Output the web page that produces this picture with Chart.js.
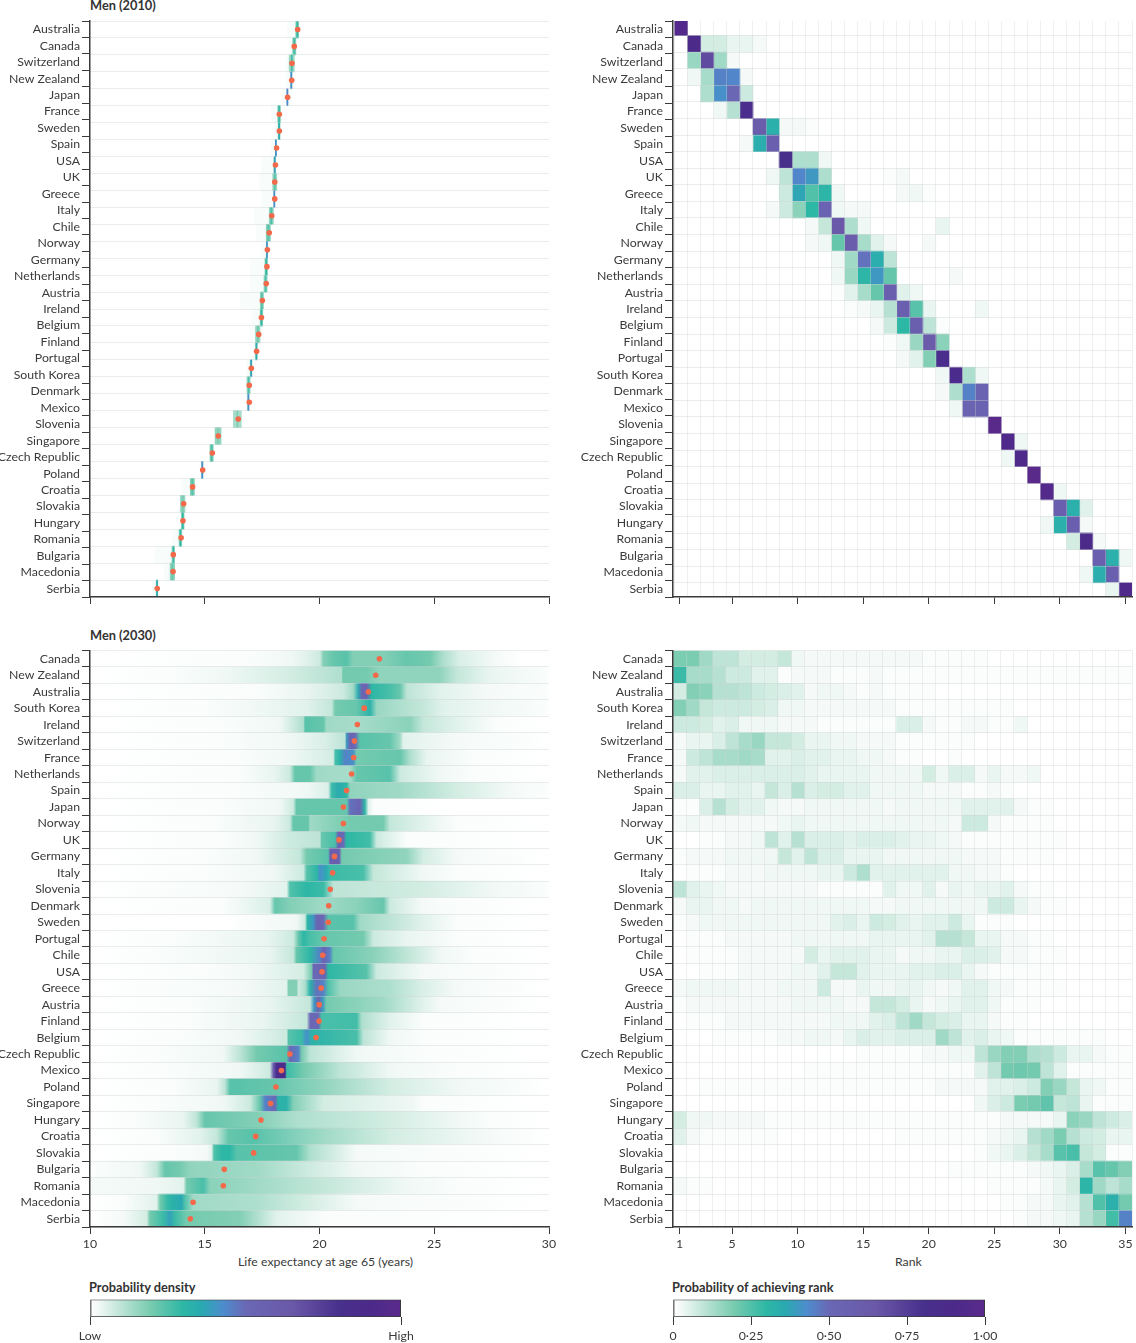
<!DOCTYPE html>
<html>
<head>
<meta charset="utf-8">
<title>Life expectancy at age 65, men</title>
<script src="https://cdn.jsdelivr.net/npm/chart.js@4"></script>
<style>
  body { margin: 0; background: #fff; }
  #page { position: relative; width: 1136px; height: 1343px; overflow: hidden; font-family: Lato, sans-serif; color: #3a3a3a; }
  #page canvas { position: absolute; }
  .lbl { position: absolute; font-size: 12.3px; line-height: 16px; white-space: nowrap; }
  .head { font-weight: bold; font-size: 12.8px; color: #333; }
</style>
</head>
<body>
<div id="page">
  <div class="lbl head" style="left:90px;top:-3px">Men (2010)</div>
  <div class="lbl head" style="left:90px;top:627px">Men (2030)</div>
  <div class="lbl" style="left:238px;top:1254px">Life expectancy at age 65 (years)</div>
  <div class="lbl" style="left:895px;top:1254px">Rank</div>
  <div class="lbl head" style="left:89px;top:1279px">Probability density</div>
  <div class="lbl head" style="left:672px;top:1279px">Probability of achieving rank</div>
  <canvas id="c2010"></canvas>
  <canvas id="r2010"></canvas>
  <canvas id="c2030"></canvas>
  <canvas id="r2030"></canvas>
  <canvas id="legA"></canvas>
  <canvas id="legB"></canvas>
</div>
<script>
const countries2010 = ["Australia","Canada","Switzerland","New Zealand","Japan","France","Sweden","Spain","USA","UK","Greece","Italy","Chile","Norway","Germany","Netherlands","Austria","Ireland","Belgium","Finland","Portugal","South Korea","Denmark","Mexico","Slovenia","Singapore","Czech Republic","Poland","Croatia","Slovakia","Hungary","Romania","Bulgaria","Macedonia","Serbia"];
const countries2030 = ["Canada","New Zealand","Australia","South Korea","Ireland","Switzerland","France","Netherlands","Spain","Japan","Norway","UK","Germany","Italy","Slovenia","Denmark","Sweden","Portugal","Chile","USA","Greece","Austria","Finland","Belgium","Czech Republic","Mexico","Poland","Singapore","Hungary","Croatia","Slovakia","Bulgaria","Romania","Macedonia","Serbia"];

// the 2010 density panel only has 34 strips and points in the picture
const mean2010 = [19.05,18.90,18.80,18.79,18.61,18.25,18.25,18.13,18.08,18.05,18.05,17.92,17.81,17.73,17.71,17.68,17.51,17.47,17.35,17.26,17.03,16.94,16.94,16.46,15.59,15.33,14.91,14.47,14.08,14.05,13.97,13.63,13.62,12.93];
const stripMid2010 = [19.03,18.90,18.79,18.77,18.60,18.24,18.24,18.10,18.05,18.05,18.03,17.90,17.77,17.71,17.68,17.65,17.49,17.47,17.31,17.25,17.02,16.91,16.90,16.42,15.58,15.30,14.89,14.46,14.04,14.04,13.94,13.63,13.59,12.92];
const stripHalf2010 = [.065,.07,.115,.045,.03,.06,.045,.03,.045,.09,.03,.09,.09,.03,.06,.07,.07,.06,.10,.045,.045,.07,.03,.175,.13,.07,.045,.09,.10,.06,.06,.06,.10,.045];
const stripDensity2010 = [18,18,14,8,5,18,14,5,10,15,5,16,18,5,15,15,16,15,15,10,10,15,10,13,16,18,8,18,15,15,15,15,16,8];
const coreDensity2010 = [28,26,28,42,44,28,34,42,38,24,42,26,24,40,30,26,24,30,22,35,38,26,42,18,18,26,42,24,20,30,30,28,22,35];
const coreHalf2010 = 0.025;
const tailFrom2010 = [18.60,18.69,18.54,18.54,18.38,17.90,18.06,17.89,17.48,17.38,17.49,17.16,17.26,17.45,16.97,16.97,16.57,17.04,16.97,17.12,16.83,16.80,16.80,16.25,15.45,15.20,14.87,14.00,13.92,13.94,13.60,12.83,13.22,12.70];
const tailTo2010 = [18.97,18.86,18.69,18.74,18.79,18.16,18.21,18.08,18.02,17.96,17.99,17.81,17.70,17.67,17.63,17.58,17.41,17.41,17.20,17.20,16.97,16.86,16.86,16.30,15.52,15.26,14.91,14.36,13.95,13.97,13.86,13.56,13.48,12.84];
const tailDensity2010 = 1.5;

// probability of achieving rank, in %, each row starts at rankFirst2010
const rankFirst2010 = [1,2,2,2,3,4,7,6,9,8,9,8,11,11,13,13,13,14,16,17,18,21,21,22,25,26,26,28,29,30,29,31,33,32,34];
const rankProb2010 = [
  [95],[90,7,7,4,4,2],[15,70,14,2],[3,13,45,44,2],[12,42,50,8],[3,11,85],[60,33,2,2,1],[2,34,58],[82,12,12,3],
  [3,10,44,40,12,0,0,0,0,1,2],[8,37,25,31,3,0,0,0,0,2,3,1],[2,8,17,30,55,3,2,2],[2,9,65,12,3,0,0,0,0,0,4],
  [2,3,22,60,13,5,2,0,0,2],[3,14,48,34,10],[3,15,31,40,22,0,0,0,0,2],[1,5,13,22,58,5,3],[1,2,4,11,58,24,4,0,0,0,3],
  [2,8,30,58,10,1],[1,3,15,62,17],[2,5,18,85],[3,88,12,3],[2,12,45,55],[3,55,55],[100],[93,3],[3,93],[100],[95,3],
  [58,33,5],[3,33,58,2],[7,90,2],[58,33,3],[3,34,58],[4,93]
];

const mean2030 = [22.61,22.45,22.13,21.95,21.65,21.52,21.49,21.40,21.18,21.04,21.04,20.85,20.65,20.57,20.47,20.40,20.38,20.20,20.14,20.11,20.07,19.99,19.98,19.85,18.71,18.34,18.10,17.87,17.45,17.22,17.13,15.85,15.81,14.49,14.37];

// density profile per country: pairs of [years, density %]
const density2030 = [
  [[16.97,1],[18.71,3],[19.44,5],[20.02,8],[20.17,18],[20.60,22],[21.18,24],[21.47,18],[22.78,18],[23.80,22],[24.81,20],[25.40,12],[26.12,6],[27.72,2],[28.88,0]],
  [[13.63,1],[15.81,3],[18.71,7],[20.17,10],[20.97,12],[21.01,20],[22.05,20],[22.64,16],[25.25,16],[25.98,9],[27.43,4],[29.90,1]],
  [[17.26,1],[19.44,4],[21.04,8],[21.47,14],[21.69,35],[21.84,52],[22.05,55],[22.27,30],[23.07,26],[23.51,22],[23.80,10],[25.25,5],[27.43,2],[29.90,1]],
  [[15.08,1],[17.26,3],[19.44,5],[20.53,9],[20.68,20],[21.62,22],[22.20,32],[22.49,15],[24.52,9],[25.40,5],[27.43,3],[29.90,1]],
  [[15.81,1],[18.28,3],[18.86,8],[19.30,12],[19.37,24],[20.17,22],[20.31,14],[21.62,13],[23.94,17],[24.52,9],[25.98,5],[27.72,1]],
  [[15.81,1],[18.71,3],[20.17,6],[21.11,10],[21.18,40],[21.33,55],[21.55,50],[21.76,24],[23.07,22],[23.51,14],[23.65,5],[25.98,2],[28.88,1]],
  [[16.54,1],[18.71,3],[20.60,7],[20.68,26],[20.89,32],[21.11,45],[21.47,42],[21.62,20],[23.51,22],[23.94,12],[24.67,4],[26.70,1]],
  [[16.54,1],[17.99,4],[18.71,8],[18.93,22],[19.59,22],[19.88,14],[21.33,13],[21.62,22],[23.07,24],[23.51,8],[25.25,3],[26.70,1]],
  [[16.54,1],[19.44,3],[20.38,6],[20.53,28],[20.82,35],[21.18,30],[21.33,16],[23.51,14],[25.98,7],[28.45,2],[29.90,1]],
  [[15.81,1],[18.28,3],[18.86,8],[19.00,22],[21.18,22],[21.33,48],[21.76,55],[21.98,30],[22.13,5],[22.35,1],[25.98,0]],
  [[15.37,1],[17.99,4],[18.71,8],[18.86,22],[19.51,22],[19.59,14],[21.33,20],[22.78,20],[23.07,9],[25.25,3],[25.98,1]],
  [[15.81,1],[17.26,3],[18.71,8],[20.02,10],[20.09,22],[20.68,26],[20.82,55],[21.04,50],[21.18,30],[22.20,27],[22.49,8],[23.80,1]],
  [[15.08,1],[17.26,3],[19.15,9],[19.44,20],[20.38,24],[20.46,58],[20.86,58],[20.97,20],[23.80,16],[24.52,7],[25.98,2]],
  [[15.08,1],[17.99,3],[19.30,8],[19.44,24],[19.88,30],[20.02,42],[20.31,35],[20.46,28],[21.91,26],[22.35,9],[24.52,3],[25.98,1]],
  [[13.20,1],[16.54,2],[18.57,5],[18.71,25],[19.44,30],[20.17,28],[20.60,10],[24.52,7],[27.43,3],[29.90,1]],
  [[15.81,1],[17.84,6],[18.06,22],[18.71,18],[20.17,14],[21.62,17],[22.78,22],[23.07,8],[24.52,2],[25.98,1]],
  [[15.81,0],[19.00,3],[19.37,8],[19.47,30],[19.73,40],[19.88,55],[20.17,50],[20.38,24],[21.47,24],[21.76,14],[23.07,10],[24.52,5],[25.98,1]],
  [[13.63,1],[17.70,4],[18.86,8],[19.08,22],[19.30,30],[19.59,26],[20.17,22],[21.91,20],[22.35,8],[23.80,4],[25.98,1]],
  [[12.90,1],[17.84,4],[18.86,9],[19.00,22],[19.59,30],[20.02,45],[20.17,56],[20.46,45],[20.60,22],[22.35,17],[23.94,9],[25.25,3],[26.70,1]],
  [[15.08,1],[17.26,3],[19.30,7],[19.66,20],[19.73,50],[20.24,55],[20.38,30],[22.05,24],[22.49,8],[24.52,2]],
  [[12.90,1],[16.54,2],[18.57,5],[18.64,18],[19.00,18],[19.08,8],[19.37,12],[19.59,32],[19.88,48],[20.17,45],[20.38,25],[20.89,15],[23.07,12],[24.52,6],[25.98,2]],
  [[14.36,1],[17.84,4],[19.59,9],[19.76,40],[19.95,55],[20.14,40],[20.31,20],[22.78,14],[24.52,5],[25.25,2]],
  [[14.36,1],[17.55,4],[19.44,9],[19.59,50],[19.95,50],[20.09,26],[21.62,27],[21.84,12],[23.07,5],[24.52,1]],
  [[13.92,1],[16.54,3],[18.57,8],[18.64,24],[19.22,28],[19.44,42],[19.66,32],[21.62,26],[21.91,10],[23.07,3],[24.52,1]],
  [[12.90,1],[15.81,3],[16.54,10],[17.26,20],[18.57,24],[18.71,50],[19.08,45],[19.22,20],[19.59,10],[21.62,3],[24.52,1]],
  [[13.34,1],[16.54,3],[17.84,8],[17.99,60],[18.13,85],[18.50,90],[18.57,28],[19.30,20],[20.89,10],[23.07,3],[25.98,1]],
  [[13.63,1],[15.52,4],[15.88,10],[16.10,24],[18.13,22],[20.17,16],[21.04,13],[23.07,7],[25.98,3],[28.88,1]],
  [[12.90,1],[15.81,3],[16.97,8],[17.41,22],[17.63,45],[18.06,50],[18.21,32],[18.57,32],[18.86,18],[20.17,7],[24.09,3],[24.52,1]],
  [[11.89,1],[14.07,4],[14.65,10],[15.01,22],[17.26,18],[19.00,12],[23.07,7],[25.98,3],[27.43,1]],
  [[12.90,1],[14.79,5],[15.52,9],[16.03,22],[17.12,24],[20.17,14],[23.07,7],[27.43,2]],
  [[13.63,1],[15.08,2],[15.30,5],[15.40,25],[15.74,30],[16.10,30],[16.39,24],[19.00,22],[19.59,12],[21.62,2]],
  [[10.29,1],[12.18,3],[12.90,9],[13.27,22],[13.92,20],[14.36,16],[17.26,14],[19.44,8],[21.62,3],[24.52,1]],
  [[10.00,2],[12.90,3],[14.07,5],[14.21,20],[14.94,26],[15.23,17],[17.26,14],[20.17,9],[23.80,3],[25.98,1]],
  [[11.45,1],[12.90,5],[13.05,20],[13.34,28],[13.56,32],[13.99,36],[14.14,25],[14.50,14],[17.26,12],[19.44,7],[21.62,2]],
  [[11.45,2],[12.47,7],[12.61,20],[13.20,28],[13.49,38],[13.70,28],[14.21,20],[16.54,18],[17.26,12],[18.13,5],[20.17,1]]
];

// probability of achieving rank 1-35, in %
const rankProb2030 = [
  [19,19,14,10,10,7,7,7,9,3,2,2,2,2,2,2,2,2,2,1,1,1,1,1,0,0,0,0,0,0,0,0,0,0,0],
  [28,13,13,11,8,8,5,5,1,2,2,2,1,1,1,2,1,1,1,1,1,1,1,1,1,1,1,1,1,1,1,1,1,1,1],
  [7,18,17,11,11,10,8,7,6,5,2,3,3,2,1,2,1,1,1,1,0,0,0,0,0,0,0,0,0,0,0,0,0,0,0],
  [18,14,9,8,8,8,7,6,3,3,2,2,2,2,2,2,2,1,1,1,1,1,1,1,1,1,0,0,0,0,0,0,0,0,0],
  [8,8,7,5,6,3,3,3,2,2,2,1,1,1,1,1,1,6,6,2,1,1,2,2,1,1,3,0,0,0,0,0,0,0,0],
  [2,4,4,6,10,13,15,9,9,7,4,4,3,3,2,2,2,1,1,1,1,1,1,0,0,0,0,0,0,0,0,0,0,0,0],
  [2,8,10,13,13,14,13,5,5,6,5,5,4,4,3,3,2,1,1,0,0,1,0,0,0,0,0,0,0,0,0,0,0,0,0],
  [2,5,5,6,6,6,6,6,6,6,5,4,4,4,4,3,3,3,3,7,3,6,6,2,4,2,2,3,0,0,0,0,0,0,0],
  [6,6,4,4,5,5,4,9,6,11,6,7,7,5,5,3,3,3,3,2,2,2,1,1,2,1,0,0,0,0,0,0,0,0,0],
  [1,1,6,11,7,5,5,3,2,2,3,3,3,3,3,3,2,3,3,3,3,3,5,5,5,5,2,1,1,0,0,0,0,0,0],
  [2,3,2,2,2,2,2,2,3,4,3,3,3,3,3,3,3,3,3,3,3,2,8,8,2,1,1,1,1,0,0,0,0,0,0],
  [0,0,1,1,2,2,3,10,5,11,6,6,6,5,6,6,6,5,4,4,3,2,1,1,1,1,1,1,1,1,0,0,0,0,0],
  [1,2,2,2,3,3,3,3,9,5,10,6,6,4,4,4,3,3,3,3,3,3,2,2,2,1,1,1,1,0,0,0,0,0,0],
  [0,1,1,1,2,2,2,3,3,3,3,4,4,8,12,5,5,5,5,5,5,3,3,2,2,1,0,0,0,0,0,0,0,0,0],
  [10,5,4,3,2,2,2,2,2,2,2,1,1,1,1,1,5,3,3,5,2,4,3,4,4,5,2,1,1,0,0,0,0,0,0],
  [2,4,4,3,3,2,3,3,3,3,3,3,3,3,3,2,2,3,3,3,3,3,3,3,8,8,4,2,1,1,0,0,0,0,0],
  [1,2,3,3,3,3,3,3,3,3,3,3,5,6,4,8,7,5,4,5,5,8,4,1,1,1,0,0,0,0,0,0,0,0,0],
  [0,1,1,1,2,2,2,2,2,3,3,3,3,3,3,4,4,4,4,5,11,11,9,4,4,2,2,1,1,0,0,0,0,0,0],
  [0,1,1,1,1,2,2,2,2,2,7,4,5,5,5,4,4,2,3,3,4,4,6,6,5,2,2,1,1,1,0,0,0,0,0],
  [0,0,1,1,1,2,2,2,2,3,3,5,9,9,5,4,4,4,5,5,6,6,4,2,1,1,1,1,1,0,0,0,0,0,0],
  [2,3,3,3,3,2,2,2,3,3,3,8,2,2,4,3,3,4,4,3,2,3,5,5,3,2,1,1,1,1,0,0,0,0,0],
  [1,2,2,2,2,2,2,2,2,3,3,3,3,2,2,9,9,7,4,2,3,4,5,5,3,1,1,1,0,0,0,0,0,0,0],
  [0,1,1,1,2,2,2,2,2,2,2,2,3,3,3,5,6,10,14,9,7,6,4,4,2,1,1,0,0,0,0,0,0,0,0],
  [0,0,0,1,1,1,1,1,2,2,3,3,2,4,6,5,5,6,6,6,14,10,5,6,4,3,1,1,1,1,1,1,1,0,0],
  [0,0,0,0,0,0,0,0,0,0,0,0,0,0,1,1,1,1,1,2,2,3,3,10,15,18,18,12,11,8,4,4,2,1,1],
  [0,0,0,0,0,0,0,0,0,0,1,1,1,1,1,1,1,1,1,1,1,1,1,5,10,20,21,20,10,5,1,1,1,1,1],
  [0,0,1,1,1,1,1,1,1,1,1,1,1,1,1,1,1,1,1,1,2,2,2,2,5,5,6,8,18,15,9,4,3,1,1],
  [0,0,0,0,0,0,0,0,0,0,0,0,0,0,0,0,0,0,0,0,0,0,0,3,6,8,19,20,23,9,10,4,1,1,1],
  [7,3,3,2,2,2,2,1,1,1,1,1,1,1,1,1,1,1,1,1,1,1,1,1,1,2,2,2,2,4,17,15,10,8,6],
  [5,2,1,1,1,1,1,1,0,0,0,0,0,0,0,0,0,1,1,1,1,1,1,1,2,3,4,11,14,19,11,8,7,4,4],
  [0,0,0,0,0,0,0,0,0,0,0,0,0,0,0,0,0,0,0,0,0,0,0,1,3,4,6,9,13,24,26,9,7,1,1],
  [0,0,0,0,0,0,0,0,0,0,0,0,0,0,0,0,0,0,0,0,0,1,1,1,1,1,1,2,3,4,6,13,24,22,18],
  [2,1,1,0,0,0,0,0,0,0,0,0,0,0,0,0,0,0,0,0,0,0,0,0,1,1,1,1,2,4,7,31,14,10,13],
  [0,0,0,0,0,0,0,0,0,0,0,0,0,0,0,0,0,0,0,0,0,0,0,0,0,1,1,2,2,4,5,11,25,33,20],
  [0,0,0,0,0,0,0,0,0,0,0,0,0,0,0,0,0,0,0,0,0,0,0,0,0,0,1,2,2,3,4,11,15,27,45]
];

const yearTicks = [10,15,20,25,30];
const rankTicks = [1,5,10,15,20,25,30,35];
const legendTicksA = [0,1];
const legendLabelsA = ["Low","High"];
const legendTicksB = [0,.25,.5,.75,1];
const legendLabelsB = ["0","0·25","0·50","0·75","1·00"];

// colour ramp shared by density and rank probability
const rampAt = [0,.03,.1,.2,.3,.36,.43,.5,.65,.8,.9,1];
const rampHex = ["#ffffff","#f0f8f5","#bde4d6","#74caae","#2db7a5","#2aa9b1","#4d8ccd","#6a68b5","#6a58a8","#48308d","#4c2a8a","#5a2a8b"];

const inkColor = "#3a3a3a";
const rowLine = "rgba(205,210,210,.4)";
const cellLine = "rgba(205,210,210,.35)";
const tickFont = { family: "Lato", size: 12.3 };

function hexRgb(h) {
  return [1,3,5].map((i) => parseInt(h.substr(i,2),16));
}
function rampColor(t) {
  t = Math.min(1, Math.max(0, t));
  let i = 0;
  while (i < rampAt.length-2 && t > rampAt[i+1]) i++;
  const f = (t-rampAt[i])/(rampAt[i+1]-rampAt[i]);
  const a = hexRgb(rampHex[i]), b = hexRgb(rampHex[i+1]);
  return `rgb(${a.map((v,k) => Math.round(v+(b[k]-v)*f)).join(",")})`;
}

// boundaries of rows/cells, used as gridlines
function edges(min, max) {
  const out = [];
  for (let v = 0.5; v <= max+0.001; v++) if (v >= min) out.push({ value: v });
  return out;
}

// hidden axis that carries the marks and the pale lines between rows
function rowAxis(min, max) {
  return {
    type: "linear", position: "left", reverse: true, min, max, offset: false,
    afterBuildTicks: (s) => { s.ticks = edges(min, max); },
    afterFit: (s) => { s.width = 0; },
    ticks: { display: false, autoSkip: false },
    border: { display: false },
    grid: { offset: false, color: rowLine, z: 1, drawTicks: false },
  };
}
function cellAxis(min, max) {
  return {
    type: "linear", position: "bottom", min, max, offset: false,
    afterBuildTicks: (s) => { s.ticks = edges(min, max); },
    afterFit: (s) => { s.height = 0; },
    ticks: { display: false, autoSkip: false },
    border: { display: false },
    grid: { offset: false, color: cellLine, z: 1, drawTicks: false },
  };
}
function labelAxis(names, width) {
  return {
    type: "category", position: "left", labels: names, offset: true,
    afterFit: (s) => { s.width = width; },
    ticks: { color: inkColor, font: tickFont, padding: 2, autoSkip: false },
    border: { color: inkColor, width: 1.5, z: 2 },
    grid: { offset: true, drawOnChartArea: false, tickLength: 8, tickColor: inkColor },
  };
}
function valueAxis(min, max, values, showLabels, height) {
  return {
    type: "linear", position: "bottom", min, max,
    afterBuildTicks: (s) => { s.ticks = values.map((v) => ({ value: v })); },
    afterFit: (s) => { s.height = height; },
    ticks: { display: showLabels, color: inkColor, font: tickFont, padding: 3, maxRotation: 0, autoSkip: false },
    border: { color: inkColor, width: 1.5, z: 2 },
    grid: { drawOnChartArea: false, tickLength: 7, tickColor: inkColor },
  };
}

function pointSet(means) {
  return {
    type: "scatter", indexAxis: "x", order: 0, xAxisID: "x", yAxisID: "yRows",
    data: means.map((m,i) => ({ x: m, y: i+1 })),
    pointRadius: 2.8, pointBackgroundColor: "#f4694a", pointBorderWidth: 0,
  };
}
function barSet(points, colors, xAxisID, order) {
  return {
    type: "bar", grouped: false, order, xAxisID, yAxisID: "yRows",
    data: points, backgroundColor: colors, borderWidth: 0,
    barPercentage: 1, categoryPercentage: 1,
  };
}
function makeChart(id, box, pad, scales, datasets) {
  const el = document.getElementById(id);
  el.style.left = box[0]+"px";
  el.style.top = box[1]+"px";
  el.width = box[2];
  el.height = box[3];
  return new Chart(el, {
    type: "bar",
    data: { datasets },
    options: {
      indexAxis: "y", responsive: false, animation: false, events: [],
      layout: { padding: pad },
      plugins: { legend: { display: false }, tooltip: { enabled: false } },
      scales,
    },
  });
}

// every rank column is one dataset of floating bars
function rankSets(rows) {
  const sets = [];
  for (let r = 1; r <= 35; r++) {
    const pts = [], cols = [];
    rows.forEach((row,i) => {
      const v = row[r-1];
      if (v) {
        pts.push({ x: [r-.5, r+.5], y: i+1 });
        cols.push(rampColor(v/100));
      }
    });
    if (pts.length) sets.push(barSet(pts, cols, "xCells", 1));
  }
  return sets;
}

// 2010 density
const tailPts = mean2010.map((m,i) => ({ x: [tailFrom2010[i], tailTo2010[i]], y: i+1 }));
const wingPts = stripMid2010.map((m,i) => ({ x: [m-stripHalf2010[i], m+stripHalf2010[i]], y: i+1 }));
const corePts = stripMid2010.map((m,i) => ({ x: [m-coreHalf2010, m+coreHalf2010], y: i+1 }));
makeChart("c2010", [0,0,560,610], { top: 21, right: 11 }, {
  x: valueAxis(10, 30, yearTicks, false, 13),
  y: labelAxis(countries2010, 90),
  yRows: rowAxis(.5, 34.5),
}, [
  pointSet(mean2010),
  barSet(corePts, coreDensity2010.map((d) => rampColor(d/100)), "x", 1),
  barSet(wingPts, stripDensity2010.map((d) => rampColor(d/100)), "x", 2),
  barSet(tailPts, rampColor(tailDensity2010/100), "x", 3),
]);

// 2010 rank
const rows2010 = rankProb2010.map((vals,i) => {
  const row = new Array(35).fill(0);
  vals.forEach((v,k) => { row[rankFirst2010[i]-1+k] = v; });
  return row;
});
makeChart("r2010", [560,0,576,610], { top: 21, right: 4 }, {
  x: valueAxis(.5, 35.5, rankTicks, false, 13),
  xCells: cellAxis(.38, 35.5),
  y: labelAxis(countries2010, 113),
  yRows: rowAxis(.62, 35.36),
}, rankSets(rows2010));

// 2030 density: one floating bar per country, filled with a gradient along the year scale
function stripGradient(ctx) {
  const x = ctx.chart.scales.x;
  if (ctx.dataIndex === undefined || !x || !isFinite(x.left) || !isFinite(x.right)) return "transparent";
  const g = ctx.chart.ctx.createLinearGradient(x.left, 0, x.right, 0);
  const stops = density2030[ctx.dataIndex];
  g.addColorStop(0, rampColor(0));
  stops.forEach((s) => {
    const at = (x.getPixelForValue(s[0])-x.left)/(x.right-x.left);
    g.addColorStop(Math.min(1, Math.max(0, at)), rampColor(s[1]/100));
  });
  g.addColorStop(1, rampColor(0));
  return g;
}
const fullPts = density2030.map((d,i) => ({ x: [10, 30], y: i+1 }));
makeChart("c2030", [0,640,560,612], { top: 10.5, right: 11 }, {
  x: valueAxis(10, 30, yearTicks, true, 25),
  y: labelAxis(countries2030, 90),
  yRows: rowAxis(.5, 35.5),
}, [pointSet(mean2030), barSet(fullPts, stripGradient, "x", 1)]);

// 2030 rank
makeChart("r2030", [560,640,576,612], { top: 10.5, right: 4 }, {
  x: valueAxis(.5, 35.5, rankTicks, true, 25),
  xCells: cellAxis(.5, 35.5),
  y: labelAxis(countries2030, 113),
  yRows: rowAxis(.5, 35.5),
}, rankSets(rankProb2030));

// colour bars
function rampGradient(ctx) {
  const x = ctx.chart.scales.x;
  if (ctx.dataIndex === undefined || !x || !isFinite(x.left) || !isFinite(x.right)) return "transparent";
  const g = ctx.chart.ctx.createLinearGradient(x.left, 0, x.right, 0);
  rampAt.forEach((t,i) => g.addColorStop(t, rampHex[i]));
  return g;
}
function legendChart(id, box, pad, values, labels) {
  const x = valueAxis(0, 1, values, true, 26);
  x.ticks.callback = (v) => labels[values.indexOf(v)];
  x.ticks.padding = 4;
  x.border = { display: false };
  x.grid.tickLength = 8;
  makeChart(id, box, pad, {
    x,
    y: { type: "category", labels: ["scale"], display: false },
  }, [{
    type: "bar", xAxisID: "x", yAxisID: "y",
    data: [{ x: [0, 1], y: "scale" }],
    backgroundColor: rampGradient, borderColor: inkColor, borderWidth: 1.2, borderSkipped: false,
    barPercentage: 1, categoryPercentage: 1,
  }]);
}
legendChart("legA", [60,1290,380,53], { top: 9.5, left: 30, right: 39 }, legendTicksA, legendLabelsA);
legendChart("legB", [640,1290,380,53], { top: 9.5, left: 33, right: 35 }, legendTicksB, legendLabelsB);
</script>
</body>
</html>
